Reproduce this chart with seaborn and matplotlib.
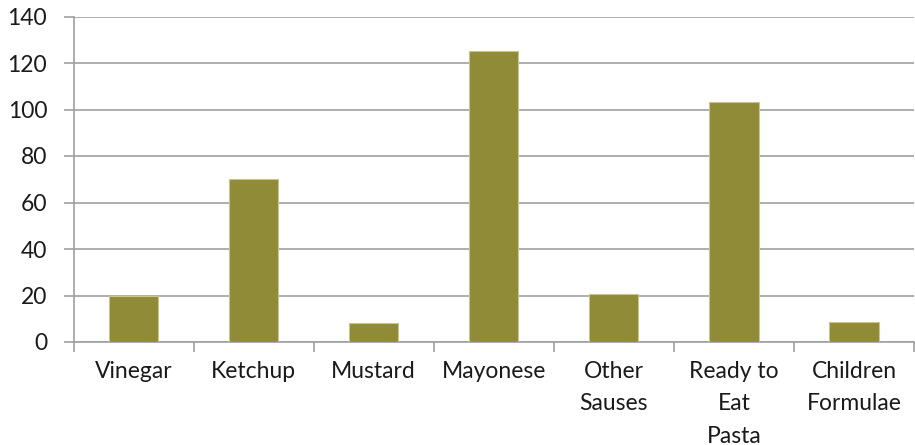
import matplotlib
matplotlib.use("Agg")
import matplotlib.pyplot as plt
import seaborn as sns
import pandas as pd
import numpy as np

categories = ["Vinegar", "Ketchup", "Mustard", "Mayonese", "Other\nSauses",
              "Ready to\nEat\nPasta", "Children\nFormulae"]
values = [20, 70, 8, 125, 20.6, 103.4, 8.8]
y_ticks = [0, 20, 40, 60, 80, 100, 120, 140]

sns.set_theme(style="white")
plt.rcParams["font.family"] = ["Lato", "DejaVu Sans"]

df = pd.DataFrame({"category": categories, "value": values})

fig = plt.figure(figsize=(9.15, 4.45), dpi=100)
ax = fig.add_axes([73.5 / 915, 1 - 342 / 445, 1 - 73.5 / 915 - 0.001, (342 - 16.5) / 445])

grid_col = "#a0a0a0"
sns.barplot(data=df, x="category", y="value", color="#8f8b37", saturation=1,
            width=0.41, edgecolor="#c9c68c", linewidth=0.8, ax=ax, zorder=3)

ax.set_ylim(0, 140)
ax.set_xlim(-0.5, len(categories) - 0.5)
ax.set_yticks(y_ticks)
ax.set_yticklabels([str(v) for v in y_ticks])
ax.yaxis.grid(True, color=grid_col, linewidth=1.2, zorder=0)
ax.set_axisbelow(True)
ax.set_xlabel("")
ax.set_ylabel("")

for side in ["top", "right"]:
    ax.spines[side].set_visible(False)
for side in ["left", "bottom"]:
    ax.spines[side].set_color(grid_col)
    ax.spines[side].set_linewidth(1.2)

# category boundary tick marks below the axis
ax.set_xticks(np.arange(-0.5, len(categories), 1.0), minor=True)
ax.tick_params(axis="x", which="minor", length=7, width=1.2, color=grid_col,
               direction="out", bottom=True)
ax.tick_params(axis="x", which="major", length=0, pad=14, labelsize=16.5,
               labelcolor="#1a1a1a")
ax.tick_params(axis="y", which="major", length=7, width=1.2, color=grid_col,
               direction="out", left=True, pad=12, labelsize=16.5,
               labelcolor="#1a1a1a")
for lab in ax.get_xticklabels():
    lab.set_linespacing(1.65)
    lab.set_verticalalignment("top")

fig.savefig("out.png", dpi=100, facecolor="white")
